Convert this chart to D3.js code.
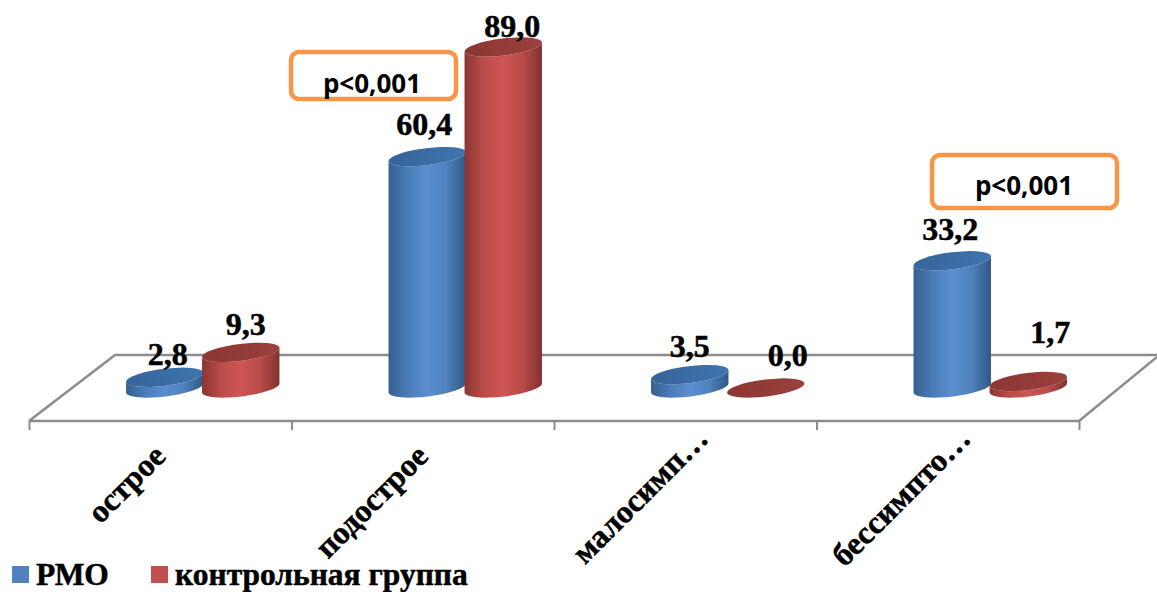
<!DOCTYPE html>
<html lang="ru">
<head>
<meta charset="utf-8">
<title>Течение заболевания</title>
<script src="https://cdn.jsdelivr.net/npm/d3@7/dist/d3.min.js"></script>
<style>
  html, body { margin: 0; padding: 0; background: #fff; }
  svg { display: block; }
  .num, .cat, .legend { font-family: "Liberation Serif", serif; font-weight: 700; fill: #000; stroke: #000; stroke-width: 0.5px; }
  .sig { font-family: "Open Sans", sans-serif; font-weight: 700; fill: #000; }
</style>
</head>
<body>
<svg id="chart" width="1157" height="592"></svg>
<script>
// Chart data
const categories = ["острое", "подострое", "малосимп…", "бессимпто…"];
const seriesNames = ["РМО", "контрольная группа"];
const rmoValues = [2.8, 60.4, 3.5, 33.2];
const controlValues = [9.3, 89.0, 0.0, 1.7];
const significance = ["p<0,001", "p<0,001"];

// Hand placement of the value labels relative to each cylinder cap: [dx, dy]
const rmoLabelNudge = [[3, -12], [-3, -22], [0, -18], [-2, -21]];
const controlLabelNudge = [[5, -17], [9, -10], [22, -22], [22, -38]];
// Truncated category labels run further along their slope
const categoryLabelSlide = [0, 0, 25, 25];

const svg = d3.select("#chart");
const defs = svg.append("defs");

const floor = { left: 29, right: 1079, front: 421, back: 355 };
const depthShift = 42.5;
const x0 = d3.scaleBand().domain(categories).range([floor.left, floor.right]);
const x1 = d3.scalePoint().domain(seriesNames).range([-38, 38]);
const y = d3.scaleLinear().domain([0, 89]).range([388, 47]);

const rx = 39, ry = 8.5, tilt = -7;
const tiltRad = tilt * Math.PI / 180;
const dx = rx * Math.cos(tiltRad), dy = rx * Math.sin(tiltRad);

const palettes = [
  { id: "blue", stops: ["#35608f", "#4a7cb8", "#5a8ed0", "#4f81bd", "#2f5784"], cap: ["#376499", "#3f74b0"] },
  { id: "red",  stops: ["#8a3634", "#bb4c49", "#cf5553", "#b94b48", "#82322f"], cap: ["#8c3735", "#9a3f3c"] }
];
palettes.forEach(p => {
  const g = defs.append("linearGradient").attr("id", "side-" + p.id);
  p.stops.forEach((c, i) => g.append("stop").attr("offset", i / (p.stops.length - 1)).attr("stop-color", c));
  const t = defs.append("linearGradient").attr("id", "cap-" + p.id).attr("x1", 0).attr("x2", 1);
  p.cap.forEach((c, i) => t.append("stop").attr("offset", i).attr("stop-color", c));
});

// Floor of the 3D plot
const floorG = svg.append("g").attr("fill", "none").attr("stroke", "#8c8c8c").attr("stroke-width", 2.5);
floorG.append("path")
  .attr("d", d3.line()([
    [floor.left, floor.front],
    [floor.left + 86, floor.back],
    [1157, floor.back]
  ]));
floorG.append("path")
  .attr("d", d3.line()([
    [floor.left, floor.front],
    [floor.right, floor.front],
    [1157, floor.back + 2]
  ]));

// Tick marks sit on the category boundaries
const edges = d3.range(categories.length + 1).map(i => floor.left + i * x0.step());
svg.append("g").attr("transform", `translate(0,${floor.front})`)
  .call(d3.axisBottom(d3.scaleLinear().domain([floor.left, floor.right]).range([floor.left, floor.right]))
    .tickValues(edges).tickSize(9).tickFormat(""))
  .call(g => g.select(".domain").remove())
  .call(g => g.selectAll("line").attr("stroke", "#8c8c8c").attr("stroke-width", 2));

// Rotated category labels
svg.append("g").selectAll("text").data(categories).join("text")
  .attr("class", "cat")
  .attr("font-size", 32)
  .attr("text-anchor", "end")
  .attr("dx", (d, i) => categoryLabelSlide[i])
  .attr("transform", d => `translate(${x0(d) + x0.bandwidth() / 2 + 7},${458}) rotate(-45)`)
  .text(d => d);

// One cylinder: side wall with a lower arc, then the elliptical cap
function cylinder(parent, cx, value, palette) {
  const top = y(value), base = y(0);
  const g = parent.append("g");
  if (value > 0) {
    g.append("path")
      .attr("fill", `url(#side-${palette})`)
      .attr("d", `M${cx - dx},${top - dy} L${cx - dx},${base - dy}
        A${rx},${ry} ${tilt} 0 0 ${cx + dx},${base + dy}
        L${cx + dx},${top + dy}
        A${rx},${ry} ${tilt} 0 1 ${cx - dx},${top - dy}Z`);
  }
  g.append("ellipse")
    .attr("rx", rx).attr("ry", ry)
    .attr("transform", `translate(${cx},${top}) rotate(${tilt})`)
    .attr("fill", `url(#cap-${palette})`);
}

const barsG = svg.append("g");
const labelsG = svg.append("g");
const groupCenter = c => x0(c) + x0.bandwidth() / 2 + depthShift;

categories.forEach((c, i) => {
  cylinder(barsG, groupCenter(c) + x1(seriesNames[0]), rmoValues[i], "blue");
  cylinder(barsG, groupCenter(c) + x1(seriesNames[1]), controlValues[i], "red");
});

const fmt = v => v.toFixed(1).replace(".", ",");
[[rmoValues, rmoLabelNudge, seriesNames[0]], [controlValues, controlLabelNudge, seriesNames[1]]]
  .forEach(([vals, nudge, s]) => {
    labelsG.selectAll(null).data(vals).join("text")
      .attr("class", "num")
      .attr("font-size", 32)
      .attr("text-anchor", "middle")
      .attr("x", (v, i) => groupCenter(categories[i]) + x1(s) + nudge[i][0])
      .attr("y", (v, i) => y(v) + nudge[i][1])
      .text(fmt);
  });

// Significance call-outs
const calloutBoxes = [
  { x: 291, y: 52, w: 165, h: 47, tx: 372, ty: 93 },
  { x: 932, y: 155, w: 185, h: 53, tx: 1024, ty: 195 }
];
calloutBoxes.forEach((b, i) => {
  svg.append("rect")
    .attr("x", b.x).attr("y", b.y).attr("width", b.w).attr("height", b.h)
    .attr("rx", 8).attr("fill", "none").attr("stroke", "#f79646").attr("stroke-width", 4.5);
  svg.append("text").attr("class", "sig")
    .attr("x", b.tx).attr("y", b.ty)
    .attr("text-anchor", "middle").attr("font-size", 26)
    .text(significance[i]);
});

// Legend
const legendItems = [
  { name: seriesNames[0], color: "#4f81bd", sx: 12, tx: 36 },
  { name: seriesNames[1], color: "#c0504d", sx: 151, tx: 175 }
];
const legend = svg.append("g");
legendItems.forEach(d => {
  legend.append("rect").attr("x", d.sx).attr("y", 566).attr("width", 17).attr("height", 17).attr("fill", d.color);
  legend.append("text").attr("class", "legend").attr("x", d.tx).attr("y", 585).attr("font-size", 31.5).text(d.name);
});
</script>
</body>
</html>
